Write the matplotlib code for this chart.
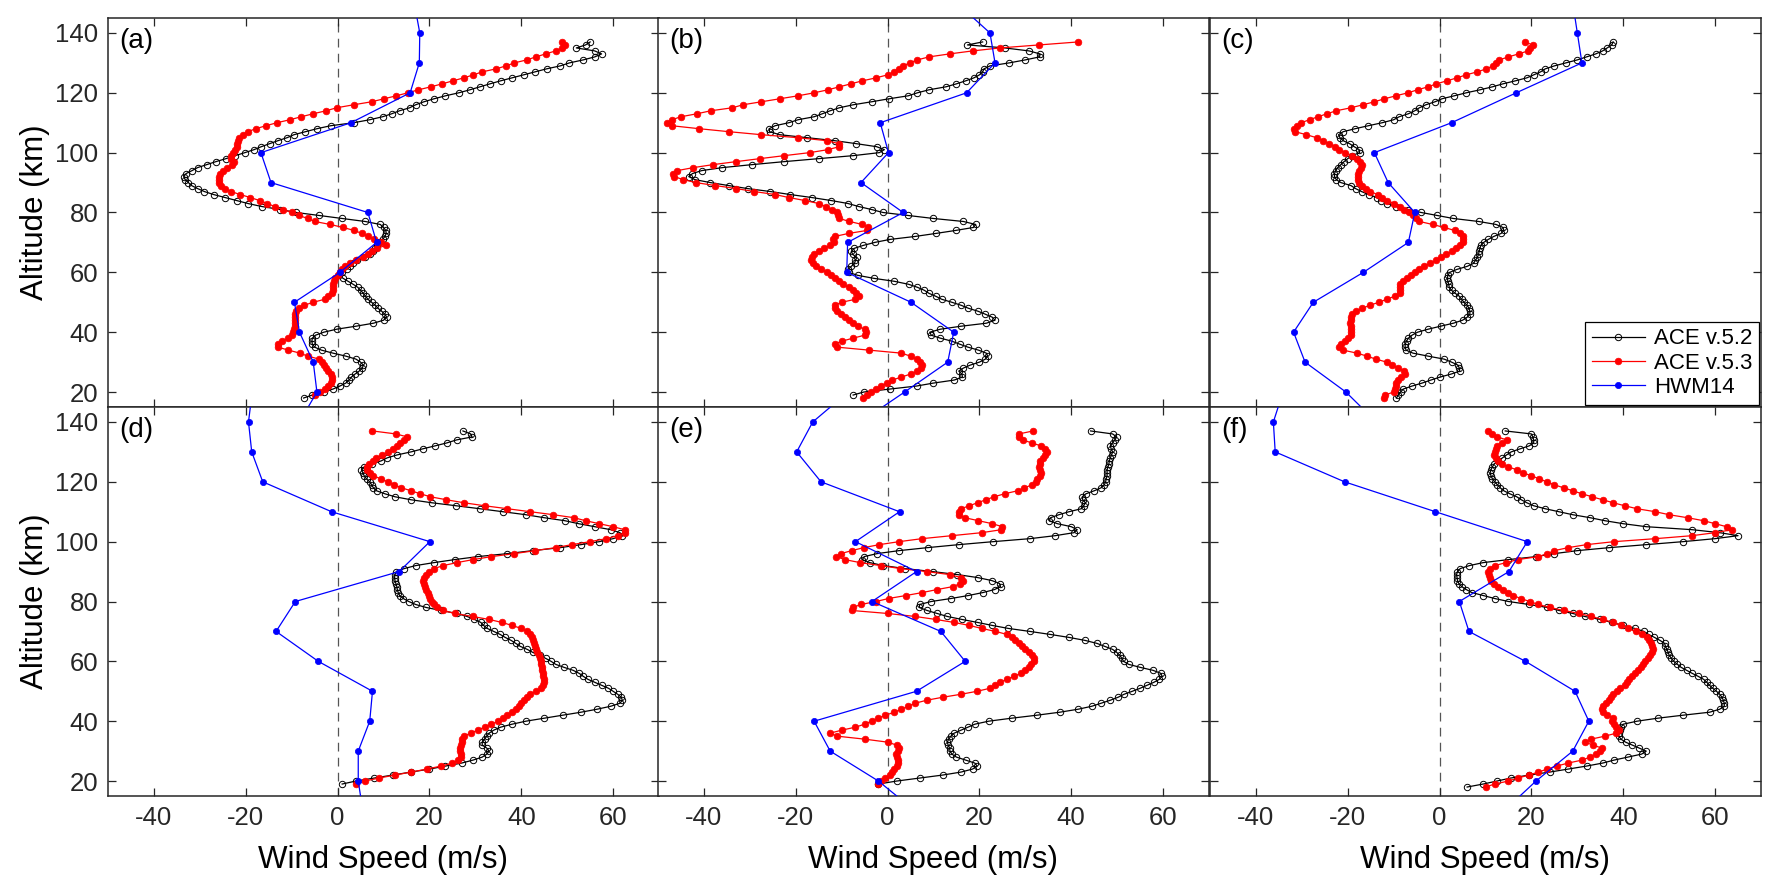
import numpy as np
import matplotlib
matplotlib.use("Agg")
import matplotlib.pyplot as plt

plt.rcParams['font.family'] = ['Liberation Sans', 'DejaVu Sans']
plt.rcParams['axes.unicode_minus'] = False

# ---- data: wind speed (m/s) per altitude (km) -------------------------------
# ACE profiles: first altitude + one value per km
HWM_ALT = np.arange(10, 151, 10)

A_V52_START = 18
A_V52 = [-7.4, -5.5, -3, -1, 0.5, 1.8, 2.5, 3, 3.8, 4.7, 5.4, 5.6, 5, 4, 1.8, -1, -3.5, -5, -5.5, -5.6,
         -5.5, -4.8, -3, -0.2, 4, 7.8, 10, 10.7, 10.3, 9.6, 8.8, 8.2, 7.4, 6.6, 6.1, 5.6, 5, 4.4, 3.4, 2.3,
         1.2, 0.3, 1, 2, 2.8, 3.4, 4.2, 6, 7, 7.8, 8.2, 8.5, 9, 9.8, 10.3, 10.6, 10.5, 10, 9.3, 6,
         1, -4, -9, -12.5, -16.5, -19.5, -22, -24.5, -27, -29, -30.5, -31.8, -32.5, -33.2, -33.5, -33, -31.7, -30.5, -28.5, -26.5,
         -24.3, -22.3, -20.2, -18.2, -16.6, -14.8, -13, -11, -9.5, -7, -4.5, -1.5, 3.5, 7, 9.8, 11.8, 13.5, 15.7, 17, 18.8,
         21, 23.5, 26.4, 28.8, 31, 33.2, 35.5, 38, 40.5, 43, 45.5, 48.5, 50.5, 53.5, 56, 57.5, 56, 52, 54, 55]
A_V53_START = 19
A_V53 = [-5, -3.8, -2.8, -2, -1.5, -1.2, -1.2, -1.5, -2, -2.5, -3, -3.4, -4, -6.5, -8.2, -10.7, -13, -13, -12, -10.8,
         -10, -9.7, -9.5, -9.2, -9.2, -9.2, -9.2, -9.2, -9, -8.5, -7.3, -5.3, -2.8, -2, -1.2, -1.1, -1.1, -1.1, -0.8, -0.5,
         0, 0.5, 0.9, 1.6, 2.6, 4, 5.5, 6.6, 7.6, 8.5, 10.5, 9.5, 8, 6.7, 5.3, 3.6, 1.2, -1.6, -5, -6.5,
         -8.4, -10, -11.8, -13.7, -15.3, -17, -19, -21.2, -23.2, -24.5, -25.3, -25.9, -25.9, -25.9, -25.6, -25, -24, -23, -22.6, -23.3,
         -23.2, -22.8, -22.3, -22, -21.8, -21.6, -21.4, -20.6, -19.6, -17.8, -15.6, -13.2, -10.4, -7.9, -5.3, -2.5, -0.2, 3.5, 7.4, 10.1,
         12.8, 15.3, 17.6, 20.3, 22.8, 25.1, 27.5, 29.6, 31.5, 34.5, 36.7, 38.5, 41.2, 43.2, 45.3, 47.5, 48.8, 49.5, 48.9]
A_HWM = [-8.3, -4.5, -5.3, -8.3, -9.4, 0.5, 8.5, 6.6, -14.5, -16.7, 2.9, 15.8, 17.8, 17.9, 16.7]

B_V52_START = 19
B_V52 = [-7.5, -5.2, 0.5, 6.3, 10, 14.5, 16.3, 16.2, 15.5, 16.5, 18, 20, 21.3, 21.8, 21.5, 19.8, 17.5, 15.7, 14, 11.5,
         9.5, 9.2, 11.5, 16, 21.5, 23.4, 22.8, 21.3, 19.7, 17.6, 16, 14, 11.8, 10.5, 9, 8, 6.5, 4.6, 1.5, -3,
         -6.5, -8.5, -8.6, -7.9, -7.2, -7, -6.7, -7.6, -7.9, -7.3, -5.3, -2.8, 0.5, 6, 10.5, 14.8, 18.7, 19.2, 16.5, 10,
         4.5, -1, -3.5, -6.3, -8.6, -12.3, -16.5, -21.2, -25.5, -30.5, -34.6, -38.6, -42, -43.3, -42.5, -40.5, -36, -29.5, -22.5, -15,
         -7.5, -1.8, -0.7, -2.4, -6.8, -11.5, -17.5, -23.5, -25.7, -25.8, -24.5, -21.5, -19.5, -16, -14.2, -12.5, -10.5, -7.5, -3.5, 0.3,
         4.5, 6.5, 9, 12.7, 15, 17, 18.8, 20, 20.7, 21, 22.3, 26.5, 30, 33.1, 33.2, 30.8, 25.5, 17.4, 20.7]
B_V53_START = 18
B_V53 = [-5.4, -4.5, -3.6, -2.5, -1.4, -0.2, 1, 3, 5, 6.5, 7.2, 7.6, 7, 6.3, 5, 3, -4, -11, -11.5, -10,
         -7.5, -5, -4.8, -5, -6.5, -7.5, -8.5, -9.3, -10.1, -11, -11.5, -11.5, -10, -7, -6.3, -6.9, -7.5, -8.5, -9.7, -10.5,
         -11.5, -12.3, -13.2, -14.5, -15.5, -16.3, -16.6, -16.5, -16, -15, -13.8, -12.5, -11.6, -11.9, -11.5, -8.5, -4.5, -4.2, -5.5, -8.3,
         -10.5, -10.7, -11, -12.2, -13.5, -15, -18, -21.5, -24.5, -29, -33, -37.5, -41.8, -44.5, -46.5, -46.8, -45.8, -42.3, -38, -33,
         -27.8, -22.5, -17, -13, -10.5, -10.6, -13.2, -19.5, -27.5, -34.5, -41, -47, -48, -47, -45, -41.5, -38.5, -33.8, -31.5, -27.5,
         -23.5, -19.5, -16, -13, -10.5, -8, -5.5, -2.5, 0, 1.3, 2.5, 3.4, 4.8, 6.5, 9, 13.5, 18.5, 24.5, 33, 41.5]
B_HWM = [-5.9, 3.7, 13.1, 14.4, 5.1, -8.9, -8.7, 3.4, -5.8, 0.2, -1.6, 17.2, 23.4, 22.3, 15.1]

C_V52_START = 18
C_V52 = [-9.4, -9, -8.5, -7.9, -6, -3.8, -1.9, 0.1, 2.5, 4.4, 4.3, 4, 2.6, 1, -2.5, -5.8, -7.3, -7.5, -7.5, -7.2,
         -6.8, -6, -4.8, -2.5, 0.2, 3, 5, 6, 6.6, 6.6, 6.4, 6, 5.3, 4.8, 4.3, 3.4, 2.6, 2.1, 2, 1.8,
         1.7, 1.8, 2.2, 3.8, 6, 7.4, 7.8, 8.2, 8.5, 8.6, 8.8, 9, 9.6, 10.6, 11.8, 13.4, 14, 13.8, 12.3, 8.5,
         3, -0.5, -4, -6.8, -9.5, -11.4, -12.7, -13.7, -15.4, -17, -18.3, -19.3, -21.5, -22.5, -22.9, -22.9, -22.6, -22.2, -21.5, -20.8,
         -20, -19.1, -17.4, -17.5, -18.6, -19.6, -21, -21.7, -22, -21, -18.4, -15.5, -12.5, -10, -8.8, -6.8, -5.4, -4.4, -3, -1,
         0.5, 3.2, 5.8, 8.8, 11.5, 13.8, 16.5, 19, 20.5, 22, 23, 25, 27.5, 30, 32, 34, 35.5, 36.5, 37.5, 37.8]
C_V53_START = 18
C_V53 = [-12, -11.9, -10, -9.8, -9.6, -9.4, -9, -8.3, -7.5, -7.8, -9, -10.4, -11.5, -13.9, -15.8, -18, -21, -21.8, -21.5, -20.7,
         -20, -19.3, -19.2, -19.2, -19.4, -19.5, -19.4, -19.2, -19, -18.2, -16.8, -15.2, -13.2, -11.5, -9.8, -8.7, -8.6, -8.6, -8.6, -8,
         -7.2, -6.3, -5.4, -4.5, -3.5, -2, -0.8, 0.3, 1.5, 2.7, 3.6, 4.4, 5, 5.1, 5, 4.5, 3.3, 1, -1.5, -4.4,
         -5.2, -5.7, -6.7, -7.8, -8.7, -9.9, -11.4, -12.6, -13.5, -15.1, -16, -17, -17.5, -17.8, -17.8, -17.7, -17.5, -17.2, -17, -17.3,
         -18, -19, -20.5, -21.8, -22.7, -24, -25.3, -26.8, -29, -31.5, -31.6, -31, -30.2, -28.3, -26.5, -24.5, -22.5, -19.3, -16.7, -14.2,
         -12, -9.5, -6.9, -4.8, -2.5, -0.7, 1.6, 3.8, 5.8, 8.2, 10.2, 11.6, 12.3, 13, 15, 17.2, 19.3, 19.7, 20.3, 18.5]
C_HWM = [-13.8, -20.4, -29.3, -31.8, -27.5, -16.6, -6.8, -5.4, -11.2, -14.2, 2.6, 16.7, 31, 30, 29]

D_V52_START = 19
D_V52 = [1, 4, 8, 12, 16, 20, 23.5, 27, 29.5, 31.5, 32.5, 33, 32.5, 31.5, 31.5, 32, 32.5, 33, 34, 35.5,
         38, 41, 45, 49, 53, 56.5, 59.5, 61.5, 62, 61.8, 61, 60, 59, 57.5, 56, 54.5, 53.5, 52.6, 51.3, 49.3,
         47.5, 46.5, 45.3, 44, 42.5, 41.3, 39.8, 38.8, 37.8, 36.5, 35.4, 34, 32.6, 31.8, 31.2, 29.8, 28.2, 26, 22.5, 19.3,
         17, 15.5, 14.3, 13.5, 13.2, 13, 12.9, 12.7, 12.5, 12.4, 12.5, 12.8, 14.5, 17, 21, 25.5, 30.5, 37, 42.5, 48.5,
         53, 57, 60, 62, 61.5, 59.5, 56, 52.5, 49.5, 45, 41, 36, 31, 25.8, 20.5, 16, 12.5, 10.3, 8.5, 7.8,
         7.4, 7, 6.3, 5.8, 5.5, 5.2, 5.8, 7.5, 9.5, 10.8, 13, 16, 18.5, 21.2, 23.8, 25.9, 29.3, 29, 27.3]
D_V53_START = 19
D_V53 = [4, 6, 9, 12.5, 16, 19.5, 22.5, 25, 26.3, 26.8, 26.8, 26.6, 26.6, 26.8, 27, 27, 27.5, 29, 30.5, 32,
         33.5, 35, 36, 37, 38, 38.8, 39.5, 40, 40.5, 41.2, 42, 43.2, 44.3, 44.7, 44.9, 44.9, 44.8, 44.7, 44.6, 44.5,
         44.4, 44.2, 44, 43.8, 43.5, 43.2, 42.9, 42.7, 42.6, 42.4, 42, 41.3, 40, 38, 35.8, 33, 29.4, 25.5, 23, 21.7,
         21, 20.6, 20.2, 19.9, 19.6, 19.3, 19.1, 18.8, 18.6, 18.8, 19.2, 20, 21, 23, 26, 29.5, 33.5, 38.5, 43, 47.5,
         51, 55, 58.5, 61, 62.5, 62.5, 60, 57, 54, 51.5, 47, 42, 37, 32, 27.5, 23.7, 20.2, 18, 16, 13.9,
         12.3, 10.9, 9.4, 7.8, 7, 6.5, 6.3, 6.8, 7.7, 8.3, 9.7, 11, 12, 12.9, 13.5, 14.5, 15.2, 12.7, 7.6]
D_HWM = [5.5, 4.5, 4.5, 7, 7.6, -4.2, -13.4, -9.2, 13.4, 20.1, -1.3, -16.3, -18.7, -19.4, -18.6]

E_V52_START = 19
E_V52 = [-2, 2, 7, 12, 16, 18.5, 19.5, 19, 17, 15, 14, 13.6, 13.5, 13.2, 13, 13.3, 13.8, 14.5, 16, 17.5,
         19, 22, 27, 32.5, 37.5, 41.5, 44.5, 46.5, 48.5, 50.2, 51.5, 53.3, 55, 56.5, 58, 59.2, 59.8, 59.5, 57.8, 55,
         52.5, 51.4, 51, 50.6, 49.9, 49, 47.3, 45.6, 43, 39.5, 35.4, 31, 26.3, 22.8, 19.6, 16.2, 13, 10.8, 8.6, 6.9,
         7, 9.5, 13.8, 17.6, 20.8, 23.3, 24.6, 24.4, 22.7, 19.6, 15.2, 9.8, 3.8, -0.9, -3.9, -5.5, -5.1, -2.3, 2.5, 8.7,
         15.5, 23, 31, 36.5, 40.6, 41.3, 40, 37, 35.2, 35.5, 37.3, 39.5, 42.2, 42.7, 43.1, 42.5, 42.4, 43.2, 45, 46.5,
         47.2, 47.5, 47.6, 47.8, 47.8, 47.8, 48, 48.2, 48.3, 48.5, 48.8, 49, 48.7, 48.5, 49, 49.5, 49.9, 49, 44.2]
E_V53_START = 19
E_V53 = [-2, -1.5, -0.5, 0.5, 1, 1.5, 2, 2.3, 2.3, 2, 1.8, 2.2, 2.5, 2, 0, -5, -11, -12.5, -10, -7,
         -5, -3.5, -2, -0.5, 1.5, 3, 4.5, 6, 8.5, 12, 16, 19.5, 22.3, 23.5, 24.5, 26, 27.6, 29, 30, 30.8,
         31.3, 31.8, 31.9, 31.4, 30.8, 30, 29.3, 28.6, 27.7, 27, 26, 23.5, 20.5, 17.8, 14.5, 10.5, 6, 0, -7.8, -7.6,
         -5.8, -2.5, 0.2, 4, 7.6, 10.8, 14.3, 15.8, 16.4, 16, 13.5, 8.5, 2.8, -1.5, -6, -9.3, -11.2, -10.2, -7.8, -5.2,
         -1.8, 2.5, 7.5, 14, 20.5, 24.8, 25, 22.8, 19.8, 16.8, 15.5, 15.5, 16, 17.8, 19.6, 21.4, 23.2, 25.5, 28.3, 29.8,
         31.5, 32.3, 32.6, 33.2, 33.4, 33.2, 33, 33.2, 33.3, 33.8, 34.3, 34.8, 34.3, 33.4, 31.4, 29.4, 28.7, 28.6, 31.7]
E_HWM = [6, -2, -12.5, -16, 6.3, 16.9, 11.6, -3.4, 6.3, -7, 2.6, -14.5, -19.8, -16.3, -8.6]

F_V52_START = 18
F_V52 = [6, 9.5, 12.5, 15.5, 19.5, 24, 28, 32, 35.5, 38, 41, 44, 45, 43.5, 42, 40.5, 39.5, 39, 39, 39.2,
         39.5, 40, 43, 47.5, 53, 58.8, 61, 62, 62, 61.8, 61.5, 61, 60.3, 59.5, 58.8, 58.2, 57.5, 56.3, 55, 53.8,
         52.6, 51.8, 51, 50.5, 50, 49.8, 49.5, 49.2, 49, 48, 46.8, 45.5, 44.5, 42.5, 40, 37.5, 35, 31.6, 29, 26,
         23.5, 19.5, 15, 12, 9.5, 7, 5.8, 4.8, 4.2, 3.9, 3.8, 3.7, 3.9, 4.5, 6.5, 9.5, 15, 21, 25, 30,
         37, 45, 53, 60, 65, 61, 55, 45, 40, 36, 32.8, 29, 26, 23, 20.5, 19, 17.8, 16.8, 15.3, 14,
         13.2, 12.6, 12, 11.5, 11.2, 11, 11.2, 11.5, 11.9, 12.8, 13.7, 14.6, 15.6, 17.5, 19.5, 20.5, 20.5, 20.3, 20, 14.3]
F_V53_START = 18
F_V53 = [10, 12, 15, 17, 19.5, 21.5, 23.5, 25.5, 28, 31, 32.8, 34, 35, 35.3, 33.5, 31.6, 33, 36, 38.5, 39,
         38.5, 38, 37.5, 37.8, 36.5, 35.5, 35.3, 35.5, 36.2, 36.8, 37.3, 37.8, 38.6, 39.4, 40.3, 40.8, 41.3, 41.9, 42.6, 43.2,
         43.8, 44.3, 44.7, 45.3, 45.8, 46.2, 46.4, 46.3, 46, 45.7, 45.2, 44, 42.7, 41, 39.5, 37.8, 35.5, 33, 30.4, 27,
         24, 21.5, 19.6, 17.7, 16, 14.9, 13.8, 12.7, 11.8, 11.2, 11, 10.7, 10.5, 10.9, 12, 14.5, 17, 21.5, 23.5, 25,
         28, 32, 38, 47, 55, 60, 63.7, 62.5, 60, 57.5, 54, 50, 47, 43, 40.3, 37.8, 35.5, 33.2, 31, 29,
         27, 25, 23.3, 21.7, 20, 18.2, 16.8, 15, 13.5, 12.8, 12.3, 11.9, 12, 12.3, 12.6, 13.5, 14.6, 12.6, 11.5, 10.6]
F_HWM = [14, 21, 29, 32.5, 29.5, 18.7, 6.4, 4.3, 15.1, 19.1, -0.9, -20.7, -35.8, -36.2, -34.1]

PANELS = [
    ("(a)", A_V52_START, A_V52, A_V53_START, A_V53, A_HWM),
    ("(b)", B_V52_START, B_V52, B_V53_START, B_V53, B_HWM),
    ("(c)", C_V52_START, C_V52, C_V53_START, C_V53, C_HWM),
    ("(d)", D_V52_START, D_V52, D_V53_START, D_V53, D_HWM),
    ("(e)", E_V52_START, E_V52, E_V53_START, E_V53, E_HWM),
    ("(f)", F_V52_START, F_V52, F_V53_START, F_V53, F_HWM),
]

# ---- figure -----------------------------------------------------------------
W, H = 1778, 896
fig = plt.figure(figsize=(W / 100, H / 100), dpi=100)

col_left = [108, 658, 1210]
col_w = 551
row_top = [18, 407]
row_h = 389

axes = []
for k, (tag, s52, v52, s53, v53, hwm) in enumerate(PANELS):
    r, c = divmod(k, 3)
    ax = fig.add_axes([col_left[c] / W, 1 - (row_top[r] + row_h) / H, col_w / W, row_h / H])
    axes.append(ax)

    ax.axvline(0, color="#555555", lw=0.9, ls=(0, (7, 5)), zorder=1)

    alt52 = np.arange(s52, s52 + len(v52))
    alt53 = np.arange(s53, s53 + len(v53))
    ax.plot(v52, alt52, color="black", lw=0.9, marker="o", ms=4.6, mfc="none",
            mec="black", mew=0.7, label="ACE v.5.2", zorder=2)
    ax.plot(v53, alt53, color="red", lw=0.9, marker="o", ms=4.8, mfc="red",
            mec="red", mew=0.5, label="ACE v.5.3", zorder=3)
    ax.plot(hwm, HWM_ALT, color="blue", lw=0.9, marker="o", ms=4.5, mfc="blue",
            mec="blue", mew=0.5, label="HWM14", zorder=4)

    ax.set_xlim(-50, 70)
    ax.set_ylim(15, 145)
    ax.set_xticks([-40, -20, 0, 20, 40, 60])
    ax.set_yticks([20, 40, 60, 80, 100, 120, 140])
    ax.tick_params(direction="in", top=True, right=True, length=6, width=0.9,
                   labelsize=18.5, colors="#262626", pad=7)
    for sp in ax.spines.values():
        sp.set_linewidth(1.1)
        sp.set_color("#262626")

    if c == 0:
        ax.set_ylabel("Altitude (km)", fontsize=22.5, labelpad=4)
    else:
        ax.tick_params(labelleft=False)
    if r == 1:
        ax.set_xlabel("Wind Speed (m/s)", fontsize=22.5, labelpad=11)
    else:
        ax.tick_params(labelbottom=False)

    ax.text(0.02, 0.975, tag, transform=ax.transAxes, ha="left", va="top", fontsize=20)

leg = axes[2].legend(loc="lower right", fontsize=16, frameon=True, fancybox=False,
                     edgecolor="black", framealpha=1, borderaxespad=0.1,
                     handlelength=2.4, handletextpad=0.4, borderpad=0.3, labelspacing=0.15)
leg.get_frame().set_linewidth(0.9)

fig.savefig("out.png", dpi=100)
